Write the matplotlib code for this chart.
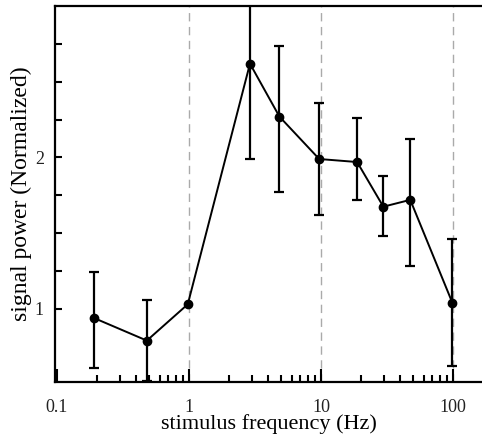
import matplotlib
matplotlib.use("Agg")
import matplotlib.pyplot as plt
import numpy as np
from matplotlib.ticker import FixedLocator, NullFormatter, LogLocator

nan = float('nan')

# stimulus frequency (Hz) and normalized signal power
freq = [0.19, 0.48, 0.98, 2.9, 4.85, 9.7, 18.8, 29.7, 47.5, 99]
power = [0.94, 0.79, 1.03, 2.62, 2.27, 1.99, 1.97, 1.675, 1.72, 1.04]
# error bar ends (no bar at 1 Hz)
err_low = [0.61, 0.52, nan, 1.99, 1.77, 1.62, 1.72, 1.48, 1.28, 0.62]
err_high = [1.245, 1.06, nan, 3.2, 2.74, 2.36, 2.26, 1.88, 2.12, 1.46]
guide_freqs = [1, 10, 100]
x_tick_labels = ["0.1", "1", "10", "100"]

plt.rcParams['font.family'] = ['Liberation Serif', 'DejaVu Serif']

fig = plt.figure(figsize=(4.82, 4.41), dpi=100)
ax = fig.add_axes([0.114, 0.134, 0.886, 0.852])

for g in guide_freqs:
    ax.axvline(g, color='#aaaaaa', lw=1.0, ls=(0, (6, 4)), zorder=0)

power = np.array(power)
yerr = [power - np.array(err_low), np.array(err_high) - power]
ax.errorbar(freq, power, yerr=yerr, color='black', lw=1.4, marker='o',
            markersize=6, elinewidth=1.6, capsize=3.8, capthick=1.6,
            zorder=3)

ax.set_xscale('log')
ax.set_xlim(0.0966, 166)
ax.set_ylim(0.517, 3.0)

ax.xaxis.set_major_locator(FixedLocator([0.1, 1, 10, 100]))
ax.set_xticklabels(x_tick_labels)
ax.xaxis.set_minor_locator(LogLocator(base=10, subs=np.arange(2, 10)))
ax.xaxis.set_minor_formatter(NullFormatter())

ax.yaxis.set_major_locator(FixedLocator([1, 2]))
ax.yaxis.set_minor_locator(FixedLocator([1.25, 1.5, 1.75, 2.25, 2.5, 2.75]))

ax.tick_params(axis='both', which='both', direction='in', width=1.5,
               labelsize=13, labelcolor='#222222')
ax.tick_params(axis='x', which='major', length=9.5, pad=12)
ax.tick_params(axis='x', which='minor', length=5)
ax.tick_params(axis='y', which='both', length=5)
ax.tick_params(axis='y', which='major', pad=8)

for side in ['left', 'bottom', 'top']:
    ax.spines[side].set_linewidth(1.6)
ax.spines['right'].set_visible(False)

ax.set_xlabel('stimulus frequency (Hz)', fontsize=16, labelpad=-1)
ax.set_ylabel('signal power (Normalized)', fontsize=17, labelpad=2)

fig.savefig('out.png', dpi=100)
